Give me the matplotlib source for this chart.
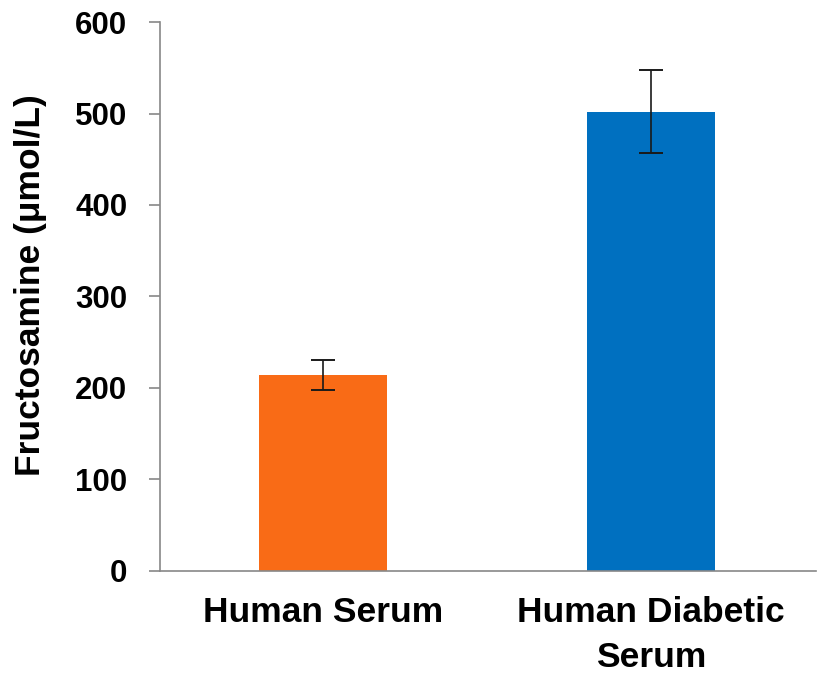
import numpy as np
import matplotlib
matplotlib.use("Agg")
import matplotlib.pyplot as plt

categories = ["Human Serum", "Human Diabetic\nSerum"]
values = [214, 502]
errors = [16.5, 45]
colors = ["#F96B16", "#0070C0"]
yticks = [0, 100, 200, 300, 400, 500, 600]

plt.rcParams['font.family'] = ['Liberation Sans', 'DejaVu Sans']
plt.rcParams['font.weight'] = 'bold'

fig = plt.figure(figsize=(8.18, 6.73), dpi=100)
ax = fig.add_axes([0.1956, 0.1516, 0.8020, 0.8157])

x = np.arange(len(categories))
ax.bar(x, values, width=0.393, color=colors, zorder=2)
ax.errorbar(x, values, yerr=errors, fmt='none', ecolor='#1a1a1a',
            elinewidth=1.2, capsize=8.3, capthick=1.4, zorder=3)

ax.set_xlim(-0.497, 1.503)
ax.set_ylim(0, 600)
ax.set_yticks(yticks)
ax.set_yticklabels([str(t) for t in yticks], fontsize=22.5, fontweight='bold')
ax.set_xticks(x)
ax.set_xticklabels(categories, fontsize=25.5, fontweight='bold', linespacing=1.45)
ax.tick_params(axis='x', length=0, pad=18)
ax.tick_params(axis='y', length=8, width=1.2, color='#888888', pad=15.5)

for s in ['top', 'right']:
    ax.spines[s].set_visible(False)
for s in ['left', 'bottom']:
    ax.spines[s].set_color('#888888')
    ax.spines[s].set_linewidth(1.2)

ax.set_ylabel("Fructosamine (μmol/L)", fontsize=25.5, fontweight='bold')
ax.yaxis.set_label_coords(-0.172, 0.52)

fig.savefig("out.png", dpi=100)
